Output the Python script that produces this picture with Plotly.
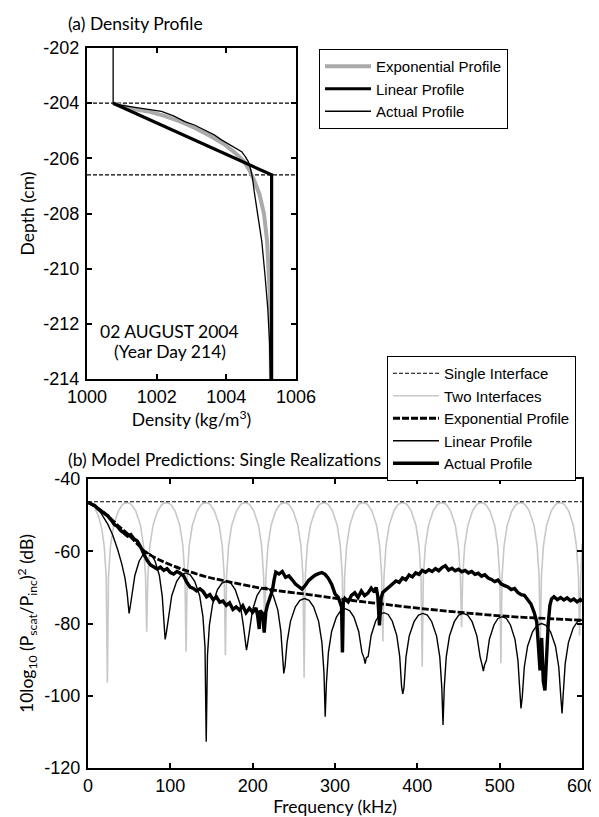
import plotly.graph_objects as go

# ---------------- Panel (a): density profile ----------------
act_density = [1000.75, 1000.75, 1001.0, 1001.37, 1001.75, 1002.14, 1002.5, 1002.81, 1003.1, 1003.39,
               1003.65, 1003.86, 1004.1, 1004.25, 1004.44, 1004.55, 1004.63, 1004.7, 1004.75, 1004.8,
               1004.87, 1004.95, 1005.02, 1005.11, 1005.19, 1005.24, 1005.26]
act_depth = [-202.0, -204.0, -204.08, -204.16, -204.22, -204.30, -204.47, -204.67, -204.8, -204.97,
             -205.15, -205.33, -205.52, -205.64, -205.76, -205.95, -206.12, -206.4, -206.7, -207.2,
             -207.82, -208.4, -209.03, -210.24, -211.45, -212.67, -214.0]

expa_density = [1000.75, 1001.0, 1001.3, 1001.75, 1002.2, 1002.65, 1003.1, 1003.55, 1003.95, 1004.25,
                1004.5, 1004.65, 1004.8, 1004.95, 1005.08, 1005.17, 1005.22, 1005.25, 1005.27, 1005.28]
expa_depth = [-204.0, -204.1, -204.2, -204.3, -204.45, -204.65, -204.9, -205.2, -205.5, -205.8,
              -206.1, -206.4, -206.8, -207.3, -208.0, -209.0, -210.0, -211.0, -212.0, -214.0]

lina_density = [1000.75, 1005.3, 1005.3]
lina_depth = [-204.0, -206.6, -214.0]

interface_depths = [-204.0, -206.6]
density_span = [1000.0, 1006.0]

density_ticks = [1000, 1002, 1004, 1006]
density_ticktext = ["1000", "1002", "1004", "1006"]
depth_ticks = [-214, -212, -210, -208, -206, -204, -202]
depth_ticktext = ["-214", "-212", "-210", "-208", "-206", "-204", "-202"]

# ---------------- Panel (b): model predictions ----------------
freq_ticks = [0, 100, 200, 300, 400, 500, 600]
freq_ticktext = ["0", "100", "200", "300", "400", "500", "600"]
db_ticks = [-120, -100, -80, -60, -40]
db_ticktext = ["-120", "-100", "-80", "-60", "-40"]

single_freq = [0.0, 600.0]
single_db = [-46.3, -46.3]

gray_freq = [0, 3.9, 8.2, 13.0, 16.8, 19.7, 22.1, 23.5,
             24.9, 27.3, 31.2, 36.9, 42.1, 47.4, 52.7, 57.9, 63.7, 67.5, 69.9, 71.3,
             72.7, 75.1, 79.0, 84.7, 89.9, 95.2, 100.5, 105.7, 111.5, 115.3, 117.7, 119.1,
             120.5, 122.9, 126.8, 132.5, 137.7, 143.0, 148.3, 153.5, 159.3, 163.1, 165.5, 166.9,
             168.3, 170.7, 174.6, 180.3, 185.5, 190.8, 196.1, 201.3, 207.1, 210.9, 213.3, 214.7,
             216.1, 218.5, 222.4, 228.1, 233.3, 238.6, 243.9, 249.1, 254.9, 258.7, 261.1, 262.5,
             263.9, 266.3, 270.2, 275.9, 281.1, 286.4, 291.7, 296.9, 302.7, 306.5, 308.9, 310.3,
             311.7, 314.1, 318.0, 323.7, 328.9, 334.2, 339.5, 344.7, 350.5, 354.3, 356.7, 358.1,
             359.5, 361.9, 365.8, 371.5, 376.7, 382.0, 387.3, 392.5, 398.3, 402.1, 404.5, 405.9,
             407.3, 409.7, 413.6, 419.3, 424.5, 429.8, 435.1, 440.3, 446.1, 449.9, 452.3, 453.7,
             455.1, 457.5, 461.4, 467.1, 472.3, 477.6, 482.9, 488.1, 493.9, 497.7, 500.1, 501.5,
             502.9, 505.3, 509.2, 514.9, 520.1, 525.4, 530.7, 535.9, 541.7, 545.5, 547.9, 549.3,
             550.7, 553.1, 557.0, 562.7, 567.9, 573.2, 578.5, 583.7, 589.5, 593.3, 595.7, 597.1,
             598.5, 600.0]
gray_db = [-46.5, -46.85, -48.0, -50.4, -53.9, -58.6, -67.0, -96.3,
           -67.0, -58.6, -52.8, -48.8, -47.0, -46.5, -47.0, -48.8, -52.8, -58.6, -67.0, -82.3,
           -67.0, -58.6, -52.8, -48.8, -47.0, -46.5, -47.0, -48.8, -52.8, -58.6, -67.0, -87.8,
           -67.0, -58.6, -52.8, -48.8, -47.0, -46.5, -47.0, -48.8, -52.8, -58.6, -67.0, -88.8,
           -67.0, -58.6, -52.8, -48.8, -47.0, -46.5, -47.0, -48.8, -52.8, -58.6, -67.0, -82.0,
           -67.0, -58.6, -52.8, -48.8, -47.0, -46.5, -47.0, -48.8, -52.8, -58.6, -67.0, -95.0,
           -67.0, -58.6, -52.8, -48.8, -47.0, -46.5, -47.0, -48.8, -52.8, -58.6, -67.0, -88.0,
           -67.0, -58.6, -52.8, -48.8, -47.0, -46.5, -47.0, -48.8, -52.8, -58.6, -67.0, -85.0,
           -67.0, -58.6, -52.8, -48.8, -47.0, -46.5, -47.0, -48.8, -52.8, -58.6, -67.0, -92.0,
           -67.0, -58.6, -52.8, -48.8, -47.0, -46.5, -47.0, -48.8, -52.8, -58.6, -67.0, -81.0,
           -67.0, -58.6, -52.8, -48.8, -47.0, -46.5, -47.0, -48.8, -52.8, -58.6, -67.0, -91.0,
           -67.0, -58.6, -52.8, -48.8, -47.0, -46.5, -47.0, -48.8, -52.8, -58.6, -67.0, -85.0,
           -67.0, -58.6, -52.8, -48.8, -47.0, -46.5, -47.0, -48.8, -52.8, -58.6, -67.0, -83.4,
           -67.0, -58.0]

expb_freq = [0, 10, 24, 36, 49, 60, 70, 85, 105, 125, 146, 170, 200, 230, 268, 303, 335, 368,
             415, 461, 508, 555, 600]
expb_db = [-46.5, -47.8, -50.2, -52.8, -55.4, -58.0, -60.2, -62.2, -64.2, -65.8, -67.2, -68.4,
           -69.8, -70.9, -72.0, -73.1, -74.0, -74.9, -76.1, -77.1, -78.0, -78.6, -79.1]

lin_freq = [0, 8, 16, 24, 30, 36, 41, 45, 47.5, 49.9,
            51.2, 53.4, 56.9, 62.2, 67.0, 71.8, 76.6, 81.4, 86.7, 90.2, 92.4, 93.7,
            95.2, 97.7, 101.7, 107.7, 113.2, 118.7, 124.1, 129.6, 135.6, 139.6, 142.1, 143.6,
            145.1, 147.5, 151.4, 157.3, 162.7, 168.1, 173.4, 178.8, 184.7, 188.6, 191.0, 192.5,
            193.9, 196.1, 199.8, 205.2, 210.2, 215.2, 220.1, 225.1, 230.6, 234.2, 236.4, 237.8,
            239.3, 241.8, 245.9, 251.9, 257.4, 263.0, 268.5, 274.0, 280.1, 284.1, 286.6, 288.1,
            289.6, 292.0, 295.9, 301.7, 307.0, 312.4, 317.7, 323.0, 328.8, 332.7, 335.2, 336.6,
            338.0, 340.3, 343.9, 349.4, 354.4, 359.5, 364.5, 369.5, 375.0, 378.6, 380.9, 382.3,
            383.8, 386.2, 390.1, 396.0, 401.4, 406.8, 412.1, 417.5, 423.4, 427.3, 429.7, 431.2,
            432.7, 435.1, 439.0, 444.9, 450.3, 455.7, 461.1, 466.5, 472.4, 476.3, 478.7, 480.2,
            481.6, 483.9, 487.5, 493.0, 498.0, 503.1, 508.1, 513.1, 518.6, 522.2, 524.5, 525.9,
            527.4, 529.9, 533.9, 539.9, 545.4, 550.9, 556.3, 561.8, 567.8, 571.8, 574.3, 575.8,
            577.2, 579.6, 583.5, 589.2, 594.5, 600.0]
lin_db = [-46.5, -47.5, -49.5, -52.5, -55.5, -59.5, -63.5, -67.5, -71.5, -77.2,
          -75.5, -72.5, -66.7, -62.7, -60.9, -60.4, -60.9, -62.7, -66.7, -72.5, -80.9, -84.4,
          -82.5, -78.1, -72.3, -68.3, -66.5, -66.0, -66.5, -68.3, -72.3, -78.1, -86.5, -112.7,
          -88.8, -80.4, -74.6, -70.6, -68.8, -68.3, -68.8, -70.6, -74.6, -80.4, -85.5, -87.4,
          -85.5, -82.1, -76.3, -72.3, -70.5, -70.0, -70.5, -72.3, -76.3, -82.1, -90.5, -93.8,
          -91.8, -85.2, -79.4, -75.4, -73.6, -73.1, -73.6, -75.4, -79.4, -85.2, -93.6, -105.8,
          -96.4, -88.0, -82.2, -78.2, -76.4, -75.9, -76.4, -78.2, -82.2, -88.0, -89.5, -91.1,
          -89.5, -89.1, -83.3, -79.3, -77.5, -77.0, -77.5, -79.3, -83.3, -89.1, -97.5, -99.5,
          -97.7, -89.3, -83.5, -79.5, -77.7, -77.2, -77.7, -79.5, -83.5, -89.3, -97.7, -108.1,
          -97.7, -89.3, -83.5, -79.5, -77.7, -77.2, -77.7, -79.5, -83.5, -89.3, -91.5, -93.2,
          -91.5, -90.2, -84.4, -80.4, -78.6, -78.1, -78.6, -80.4, -84.4, -90.2, -98.6, -103.5,
          -100.5, -92.1, -86.3, -82.3, -80.5, -80.0, -80.5, -82.3, -86.3, -92.1, -100.5, -104.9,
          -99.5, -91.1, -85.3, -81.3, -79.5, -79.0]

act_freq = [0, 4, 8, 12, 16, 20, 24, 28, 32, 36, 40, 44, 48, 52, 56, 60, 64, 68, 72, 76, 80, 84, 88,
            92, 96, 100, 104, 108, 112, 116, 120, 124, 128, 132, 136, 140, 144, 148, 152, 156, 160,
            164, 168, 172, 176, 180, 184, 188, 192, 196, 200, 204, 206, 208, 209, 212, 214, 216, 218,
            220, 222, 224, 226, 228, 232, 236, 240, 244, 248, 252, 256, 260, 264, 268, 272, 276, 280,
            284, 288, 292, 296, 300, 304, 306, 308, 309, 310, 312, 316, 320, 324, 328, 332, 336, 340,
            344, 348, 350, 352, 354, 356, 358, 362, 366, 370, 374, 378, 382, 386, 390, 394, 398, 402,
            406, 410, 414, 418, 422, 426, 430, 434, 438, 442, 446, 450, 454, 458, 462, 466, 470, 474,
            478, 482, 486, 490, 494, 498, 502, 506, 510, 514, 518, 522, 526, 530, 534, 538, 542, 545,
            547, 549, 551, 553, 555, 557, 559, 561, 563, 566, 570, 574, 578, 582, 586, 590, 594, 598, 600]
act_db = [-46.5, -47.0, -47.3, -48.2, -48.9, -49.4, -50.2, -51.3, -52.6, -53.2, -54.3, -55.0, -55.8,
          -55.4, -56.6, -57.2, -58.8, -60.9, -62.6, -63.8, -64.3, -64.9, -64.4, -65.3, -64.8, -65.9,
          -66.3, -65.6, -66.1, -66.8, -68.6, -69.9, -70.3, -71.0, -70.4, -71.2, -72.6, -72.0, -73.4,
          -72.6, -74.1, -73.8, -75.0, -74.3, -76.1, -75.4, -76.3, -75.1, -77.0, -75.8, -76.9, -75.7,
          -77.8, -81.5, -76.4, -77.2, -82.5, -76.8, -74.9, -73.6, -72.1, -70.8, -68.0, -65.8, -66.3,
          -65.6, -67.2, -66.8, -67.9, -69.1, -69.8, -70.5, -69.4, -68.1, -67.3, -66.6, -66.2, -65.9,
          -66.4, -67.5, -69.2, -71.8, -72.8, -74.5, -75.4, -88.0, -74.2, -73.1, -74.0, -72.2, -71.5,
          -72.8, -71.0, -72.3, -71.6, -70.2, -71.3, -70.0, -72.5, -80.5, -73.0, -71.4, -70.6, -69.8,
          -69.3, -68.2, -68.6, -67.4, -67.9, -66.6, -67.1, -66.0, -66.4, -65.3, -65.8, -65.1, -65.6,
          -64.8, -65.4, -64.5, -64.0, -65.2, -64.7, -65.4, -65.0, -65.7, -65.3, -66.0, -65.6, -66.4,
          -66.1, -66.9, -66.5, -67.4, -67.8, -68.4, -68.0, -69.1, -69.5, -69.9, -70.6, -70.3, -71.4,
          -72.0, -72.2, -73.3, -74.6, -77.0, -79.5, -86.0, -93.0, -84.0, -96.0, -98.5, -88.0, -80.0,
          -75.0, -73.2, -72.6, -73.4, -72.8, -73.5, -72.9, -73.7, -73.2, -74.0, -73.4, -74.0]

W, H = 599, 817
def px(xp):
    return xp / W
def py(yp):
    return 1 - yp / H

TICKFONT = dict(family="Liberation Sans, Arial, sans-serif", size=18, color="black")
LABFONT = dict(family="Lato, Open Sans, sans-serif", size=17.5, color="black")
LEGFONT = dict(family="Liberation Sans, Arial, sans-serif", size=15, color="black")

fig = go.Figure()

# panel (a) traces
for d in interface_depths:
    fig.add_trace(go.Scatter(x=density_span, y=[d, d], mode="lines", xaxis="x", yaxis="y",
                             line=dict(color="black", width=1.2, dash="4px,2px"),
                             showlegend=False, hoverinfo="skip"))
fig.add_trace(go.Scatter(x=expa_density, y=expa_depth, mode="lines", name="Exponential Profile",
                         xaxis="x", yaxis="y", legend="legend",
                         line=dict(color="#aaaaaa", width=4)))
fig.add_trace(go.Scatter(x=lina_density, y=lina_depth, mode="lines", name="Linear Profile",
                         xaxis="x", yaxis="y", legend="legend",
                         line=dict(color="black", width=3.2)))
fig.add_trace(go.Scatter(x=act_density, y=act_depth, mode="lines", name="Actual Profile",
                         xaxis="x", yaxis="y", legend="legend",
                         line=dict(color="black", width=1.3)))

# panel (b) traces
fig.add_trace(go.Scatter(x=gray_freq, y=gray_db, mode="lines", name="Two Interfaces",
                         xaxis="x2", yaxis="y2", legend="legend2", legendrank=2,
                         line=dict(color="#c8c8c8", width=1.6)))
fig.add_trace(go.Scatter(x=single_freq, y=single_db, mode="lines", name="Single Interface",
                         xaxis="x2", yaxis="y2", legend="legend2", legendrank=1,
                         line=dict(color="black", width=1.2, dash="4px,2px")))
fig.add_trace(go.Scatter(x=lin_freq, y=lin_db, mode="lines", name="Linear Profile",
                         xaxis="x2", yaxis="y2", legend="legend2", legendrank=4,
                         line=dict(color="black", width=1.4)))
fig.add_trace(go.Scatter(x=expb_freq, y=expb_db, mode="lines", name="Exponential Profile",
                         xaxis="x2", yaxis="y2", legend="legend2", legendrank=3,
                         line=dict(color="black", width=2.8, dash="7px,2px"),
                         line_shape="spline"))
fig.add_trace(go.Scatter(x=act_freq, y=act_db, mode="lines", name="Actual Profile",
                         xaxis="x2", yaxis="y2", legend="legend2", legendrank=5,
                         line=dict(color="black", width=3.4)))

axis_common = dict(showline=True, linecolor="black", linewidth=2.4, mirror="ticks",
                   ticks="inside", ticklen=5, tickwidth=2, tickcolor="black",
                   showgrid=False, zeroline=False, tickfont=TICKFONT, automargin=False,
                   tickmode="array")

fig.update_layout(
    width=W, height=H,
    margin=dict(l=0, r=0, t=0, b=0),
    paper_bgcolor="white", plot_bgcolor="white",
    xaxis=dict(domain=[px(79), px(288)], range=[1000, 1006],
               tickvals=density_ticks, ticktext=density_ticktext,
               anchor="y", title=dict(text="Density (kg/m<sup>3</sup>)", font=LABFONT, standoff=2),
               ticklabelstandoff=0, **axis_common),
    yaxis=dict(domain=[py(371), py(40)], range=[-214, -202],
               tickvals=depth_ticks, ticktext=depth_ticktext,
               anchor="x", title=dict(text="Depth (cm)", font=LABFONT, standoff=4),
               ticklabelstandoff=2, **axis_common),
    xaxis2=dict(domain=[px(80), px(574)], range=[0, 600],
                tickvals=freq_ticks, ticktext=freq_ticktext,
                anchor="y2", title=dict(text="Frequency (kHz)", font=LABFONT, standoff=6),
                ticklabelstandoff=0, **axis_common),
    yaxis2=dict(domain=[py(760), py(471)], range=[-120, -40],
                tickvals=db_ticks, ticktext=db_ticktext,
                anchor="x2",
                title=dict(text="10log<sub>10</sub> (P<sub>scat</sub>/P<sub>inc</sub>)<sup>2</sup> (dB)",
                           font=LABFONT, standoff=6),
                ticklabelstandoff=2, **axis_common),
    legend=dict(x=px(311), y=py(41), xanchor="left", yanchor="top", bgcolor="white",
                bordercolor="black", borderwidth=1, font=LEGFONT, itemwidth=46,
                tracegroupgap=0, traceorder="normal"),
    legend2=dict(x=px(379), y=py(348), xanchor="left", yanchor="top", bgcolor="white",
                 bordercolor="black", borderwidth=1, font=LEGFONT, itemwidth=46,
                 tracegroupgap=0, traceorder="normal"),
    annotations=[
        dict(text="(a) Density Profile", x=px(58), y=py(16), xref="paper", yref="paper",
             xanchor="left", yanchor="middle", showarrow=False, font=LABFONT),
        dict(text="(b) Model Predictions: Single Realizations", x=px(58), y=py(451),
             xref="paper", yref="paper", xanchor="left", yanchor="middle", showarrow=False,
             font=LABFONT),
        dict(text="02 AUGUST 2004", x=px(162), y=py(323), xref="paper", yref="paper",
             xanchor="center", yanchor="middle", showarrow=False, font=LABFONT),
        dict(text="(Year Day 214)", x=px(162), y=py(343), xref="paper", yref="paper",
             xanchor="center", yanchor="middle", showarrow=False, font=LABFONT),
    ],
)

fig.write_html("out.html")
